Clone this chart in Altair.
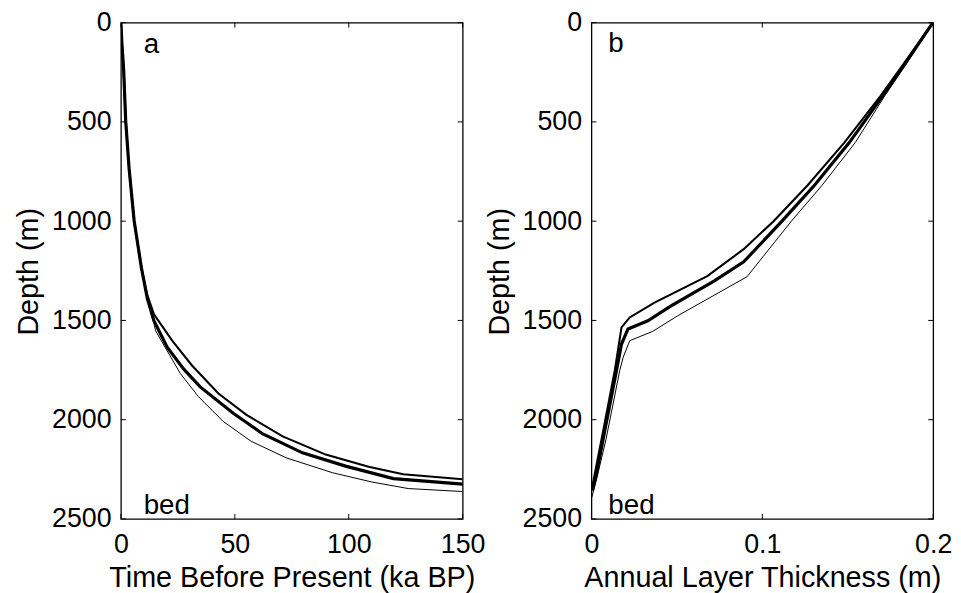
import altair as alt
import pandas as pd

# ---------------- Panel a: age-depth (Time BP ka vs depth m) ----------------
a_main_t = [0, 0.4, 1.2, 2.1, 3.6, 5.8, 9.0, 11.6, 14.5, 20.3, 27.5, 34.8, 49.3, 62.3, 79.7, 98.6, 119.6, 150]
a_main_d = [0, 100, 238, 496, 737, 998, 1236, 1390, 1502, 1635, 1744, 1835, 1968, 2072, 2167, 2234, 2297, 2325]

a_upper_t = [0, 0.4, 1.2, 2.1, 3.6, 5.8, 9.0, 11.5, 14.5, 22.5, 31.2, 42.8, 55.1, 71.0, 89.9, 108.7, 123.9, 150]
a_upper_d = [0, 100, 238, 496, 737, 998, 1236, 1370, 1469, 1602, 1727, 1868, 1976, 2084, 2176, 2237, 2275, 2300]

a_lower_t = [0, 0.4, 1.2, 2.1, 3.6, 5.8, 9.0, 11.5, 13.0, 15.2, 26.1, 34.1, 44.9, 57.2, 72.5, 92.8, 110.1, 126.1, 150]
a_lower_d = [0, 100, 238, 496, 737, 998, 1236, 1395, 1436, 1552, 1768, 1885, 2009, 2109, 2192, 2267, 2314, 2347, 2362]

# ---------------- Panel b: annual layer thickness (m) vs depth ----------------
b_main_v = [0.1998, 0.1838, 0.1703, 0.1509, 0.1304, 0.1115, 0.0891, 0.0717, 0.0466, 0.0330, 0.0214, 0.0176, 0.0147, 0.0079, 0.0031, 0.0006]
b_main_d = [0, 204, 371, 604, 820, 1000, 1205, 1302, 1427, 1502, 1543, 1619, 1751, 2050, 2267, 2358]

b_upper_v = [0.1998, 0.1830, 0.1690, 0.1480, 0.1264, 0.1066, 0.0891, 0.0678, 0.0369, 0.0224, 0.0176, 0.0137, 0.0070, 0.0025, 0.0006]
b_upper_d = [0, 204, 371, 604, 820, 1000, 1141, 1277, 1410, 1485, 1535, 1751, 2050, 2250, 2333]

b_lower_v = [0.1998, 0.1845, 0.1715, 0.1544, 0.1349, 0.1170, 0.0910, 0.0504, 0.0359, 0.0224, 0.0186, 0.0166, 0.0085, 0.0030, 0.0002]
b_lower_d = [0, 204, 371, 604, 820, 1000, 1280, 1477, 1555, 1602, 1685, 1751, 2100, 2300, 2392]

# ticks
a_xticks = [0, 50, 100, 150]
b_xticks = [0, 0.1, 0.2]
yticks = [0, 500, 1000, 1500, 2000, 2500]

# annotations
a_labels = ["a", "bed"]
a_label_x = [10, 10]
a_label_y = [155, 2475]
b_labels = ["b", "bed"]
b_label_x = [0.0099, 0.0099]
b_label_y = [150, 2475]

FONT = "Liberation Sans"
W, H = 345, 501
TICK = 5


def lines_frame(series):
    rows = []
    for name, xs, ys in series:
        for i, (x, y) in enumerate(zip(xs, ys)):
            rows.append({"s": name, "i": i, "x": x, "y": y})
    return pd.DataFrame(rows)


def panel(series, xdom, xticks, xtitle, xfmt, labels, lx, ly):
    df = lines_frame(series)
    xenc = alt.X(
        "x:Q",
        scale=alt.Scale(domain=xdom, nice=False, zero=False),
        axis=alt.Axis(
            values=xticks, title=xtitle, format=xfmt, ticks=False, tickSize=0,
            domain=False, grid=False, labelFlush=False, labelOverlap=False,
            labelFontSize=27, labelPadding=13, labelBaseline="top",
            titleFontSize=29, titleY=68, titleBaseline="alphabetic",
        ),
    )
    yenc = alt.Y(
        "y:Q",
        scale=alt.Scale(domain=[0, 2500], reverse=True, nice=False, zero=False),
        axis=alt.Axis(
            values=yticks, title="Depth (m)", format="d", ticks=False, tickSize=0,
            domain=False, grid=False, labelFlush=False, labelOverlap=False,
            labelFontSize=27, labelPadding=10,
            titleFontSize=29, titleX=-78, titleY=251,
        ),
    )
    lines = alt.Chart(df).mark_line(color="black", strokeCap="butt", strokeJoin="miter", clip=True).encode(
        x=xenc,
        y=yenc,
        detail="s:N",
        order="i:Q",
        strokeWidth=alt.StrokeWidth(
            "s:N",
            scale=alt.Scale(domain=["main", "upper", "lower"], range=[3.2, 1, 1]),
            legend=None,
        ),
    )
    txt = alt.Chart(pd.DataFrame({"x": lx, "y": ly, "t": labels})).mark_text(
        align="left", baseline="alphabetic", fontSize=28, font=FONT, color="black"
    ).encode(x=alt.X("x:Q"), y=alt.Y("y:Q"), text="t:N")

    xt = pd.DataFrame({"x": xticks})
    yt = pd.DataFrame({"y": yticks})
    xt_bot = alt.Chart(xt).mark_rule(color="black", strokeWidth=1).encode(
        x="x:Q", y=alt.value(H - TICK), y2=alt.value(H))
    xt_top = alt.Chart(xt).mark_rule(color="black", strokeWidth=1).encode(
        x="x:Q", y=alt.value(0), y2=alt.value(TICK))
    yt_left = alt.Chart(yt).mark_rule(color="black", strokeWidth=1).encode(
        y="y:Q", x=alt.value(0), x2=alt.value(TICK))
    yt_right = alt.Chart(yt).mark_rule(color="black", strokeWidth=1).encode(
        y="y:Q", x=alt.value(W - TICK), x2=alt.value(W))
    return alt.layer(lines, txt, xt_bot, xt_top, yt_left, yt_right).properties(width=W, height=H)


pa = panel(
    [("main", a_main_t, a_main_d), ("upper", a_upper_t, a_upper_d), ("lower", a_lower_t, a_lower_d)],
    [0, 150], a_xticks, "Time Before Present (ka BP)", "d", a_labels, a_label_x, a_label_y,
)
pb = panel(
    [("main", b_main_v, b_main_d), ("upper", b_upper_v, b_upper_d), ("lower", b_lower_v, b_lower_d)],
    [0, 0.2], b_xticks, "Annual Layer Thickness (m)", "~g", b_labels, b_label_x, b_label_y,
)

chart = alt.hconcat(pa, pb, spacing=130, bounds="flush").resolve_scale(x="independent", y="independent").properties(
    padding={"left": 6, "top": -3, "right": 0, "bottom": 0},
    background="white",
).configure_view(
    stroke="black", strokeWidth=1.3
).configure_axis(
    labelFont=FONT, titleFont=FONT, labelColor="black", titleColor="black", titleFontWeight="normal",
).configure_text(font=FONT)

chart.save("out.html", embed_options={"renderer": "svg", "actions": False})
